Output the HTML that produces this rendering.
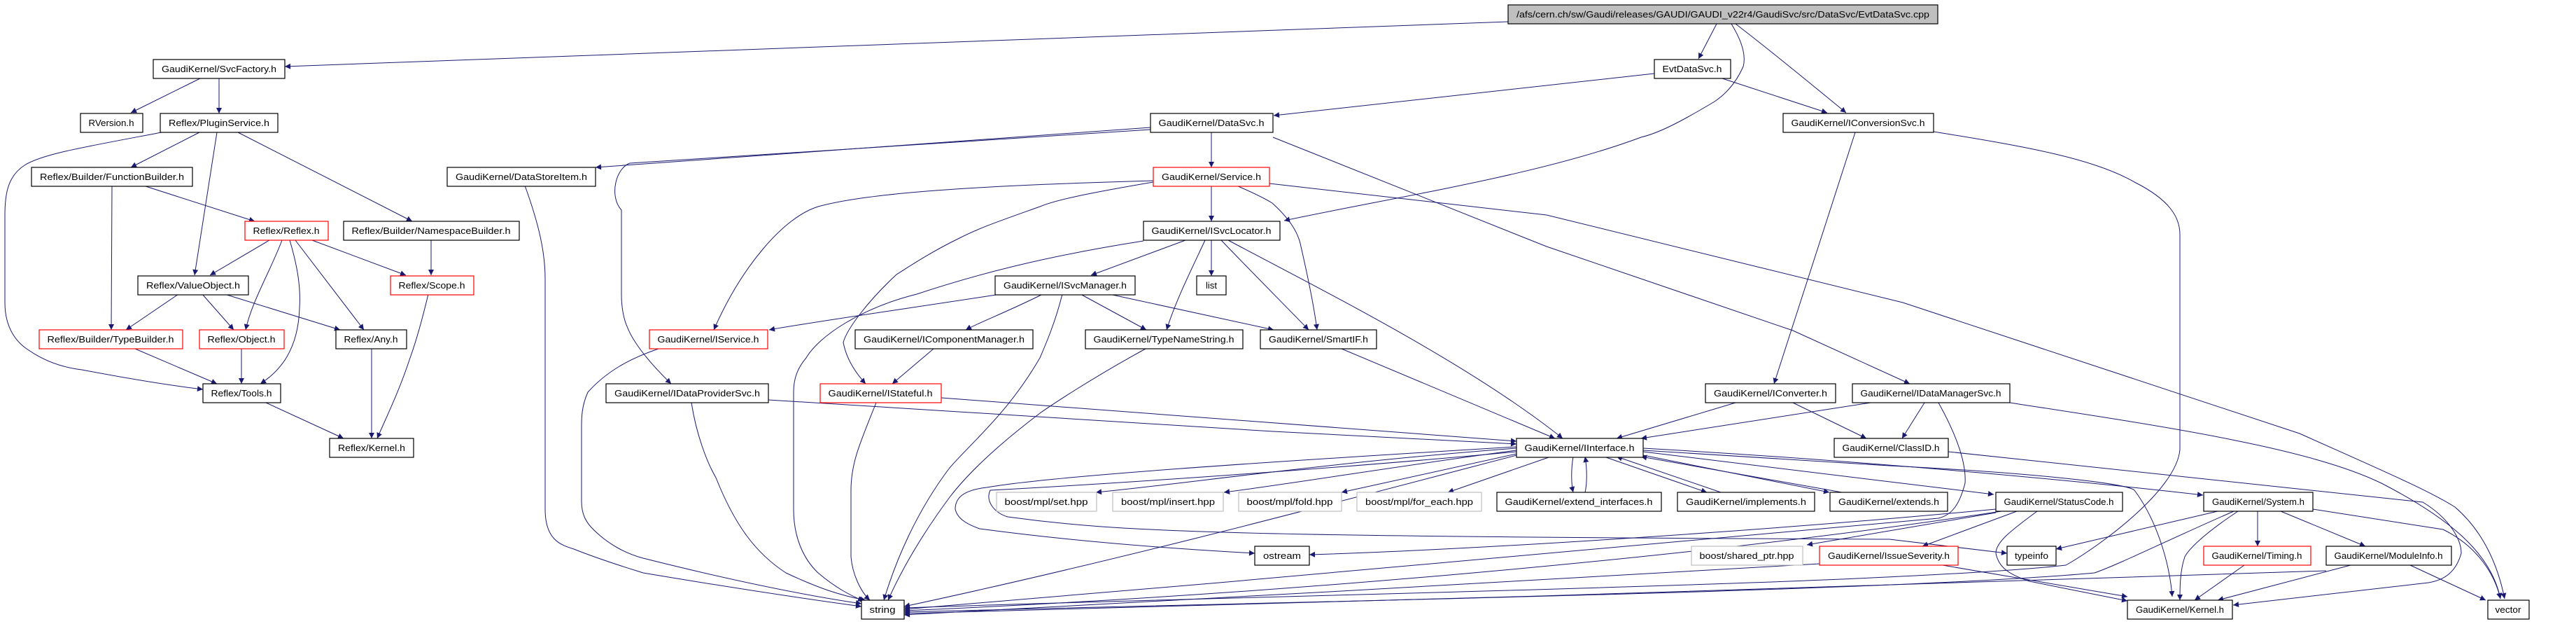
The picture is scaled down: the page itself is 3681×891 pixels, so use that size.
<!DOCTYPE html>
<html><head><meta charset="utf-8"><style>
html,body{margin:0;padding:0;background:#fff;}
svg{display:block;}
text{font-family:"Liberation Sans","DejaVu Sans",sans-serif;font-size:13px;fill:#000;}
.n{fill:#fff;stroke:#000;stroke-width:1.2;}
.r{fill:#fff;stroke:#ff0000;stroke-width:1.2;}
.g{fill:#fff;stroke:#bfbfbf;stroke-width:1.2;}
.e{fill:none;stroke:#191970;stroke-width:1;}
</style></head><body>
<svg width="3681" height="891" viewBox="0 0 3681 891" xmlns="http://www.w3.org/2000/svg">
<defs><marker id="a" viewBox="0 0 10 10" refX="10" refY="5" markerWidth="11" markerHeight="8" markerUnits="userSpaceOnUse" orient="auto"><path d="M0,0 L10,5 L0,10 z" fill="#191970"/></marker></defs>
<g class="edges" marker-end="url(#a)">
<path class="e" marker-end="url(#a)" d="M2155,31 L407,95"/>
<path class="e" marker-end="url(#a)" d="M286,112 L187,161"/>
<path class="e" marker-end="url(#a)" d="M313,112 L313,162"/>
<path class="e" marker-end="url(#a)" d="M285,189 L187,239"/>
<path class="e" marker-end="url(#a)" d="M310,189 L278,393"/>
<path class="e" marker-end="url(#a)" d="M340,189 L589,316"/>
<path class="e" marker-end="url(#a)" d="M231,189 C120,210 60,220 35,236 C10,252 7,280 7,307 L7,432 C7,470 25,490 41,500 C70,520 100,526 117,528 C180,540 240,550 290,556"/>
<path class="e" marker-end="url(#a)" d="M160,265 L159,471"/>
<path class="e" marker-end="url(#a)" d="M205,265 L364,316"/>
<path class="e" marker-end="url(#a)" d="M385,343 L300,393"/>
<path class="e" marker-end="url(#a)" d="M403,343 C385,390 360,430 351,471"/>
<path class="e" marker-end="url(#a)" d="M414,343 C425,380 430,410 428,440 C426,500 400,530 372,548"/>
<path class="e" marker-end="url(#a)" d="M422,343 L520,471"/>
<path class="e" marker-end="url(#a)" d="M446,343 L580,393"/>
<path class="e" marker-end="url(#a)" d="M616,343 L616,393"/>
<path class="e" marker-end="url(#a)" d="M255,420 L180,471"/>
<path class="e" marker-end="url(#a)" d="M289,420 L334,471"/>
<path class="e" marker-end="url(#a)" d="M321,420 L486,471"/>
<path class="e" marker-end="url(#a)" d="M193,498 L310,548"/>
<path class="e" marker-end="url(#a)" d="M345,498 L345,548"/>
<path class="e" marker-end="url(#a)" d="M531,498 L531,626"/>
<path class="e" marker-end="url(#a)" d="M612,420 C600,470 590,500 586,511 C570,560 550,600 539,626"/>
<path class="e" marker-end="url(#a)" d="M380,575 L491,626"/>
<path class="e" marker-end="url(#a)" d="M1644,182 L851,239"/>
<path class="e" marker-end="url(#a)" d="M750,265 C770,320 779,360 779,398 L779,727 C779,770 800,778 820,784 C860,800 900,812 919,818 C1050,840 1150,855 1231,866"/>
<path class="e" marker-end="url(#a)" d="M1644,185 L900,233 C880,240 870,280 888,300 C888,320 888,330 888,340 L888,420 C888,450 896,466 896,466 C905,490 930,520 959,548"/>
<path class="e" marker-end="url(#a)" d="M941,498 C900,512 867,530 840,560 C831,580 831,597 831,610 L831,716 C831,735 838,745 844,752 C870,780 900,792 919,797 C1050,830 1150,850 1231,862"/>
<path class="e" marker-end="url(#a)" d="M1731,189 L1731,239"/>
<path class="e" marker-end="url(#a)" d="M1731,265 L1731,316"/>
<path class="e" marker-end="url(#a)" d="M1648,258 C1400,265 1240,275 1169,295 C1120,310 1060,380 1020,471"/>
<path class="e" marker-end="url(#a)" d="M1648,260 C1560,275 1510,285 1486,295 C1430,315 1400,325 1369,341 C1330,360 1300,380 1281,392 C1240,430 1210,470 1205,489 C1210,515 1225,535 1237,548"/>
<path class="e" marker-end="url(#a)" d="M1767,265 C1790,275 1810,285 1818,290 C1840,310 1855,330 1859,352 C1870,400 1878,440 1882,471"/>
<path class="e" marker-end="url(#a)" d="M1814,262 L2210,307 L2719,432 L3286,619 C3400,670 3470,700 3508,724 C3550,760 3570,810 3579,855"/>
<path class="e" marker-end="url(#a)" d="M1819,196 L2210,352 L2562,472 L2729,548"/>
<path class="e" marker-end="url(#a)" d="M1694,343 L1559,393"/>
<path class="e" marker-end="url(#a)" d="M1731,343 L1731,394"/>
<path class="e" marker-end="url(#a)" d="M1722,343 C1700,390 1680,430 1667,471"/>
<path class="e" marker-end="url(#a)" d="M1745,343 C1800,400 1840,440 1870,471"/>
<path class="e" marker-end="url(#a)" d="M1755,343 C1900,420 2100,520 2233,626"/>
<path class="e" marker-end="url(#a)" d="M1634,344 C1500,365 1400,390 1310,420 C1230,440 1170,480 1152,511 C1140,525 1134,540 1134,560 L1134,727 C1134,770 1150,800 1169,818 C1195,840 1215,850 1234,858"/>
<path class="e" marker-end="url(#a)" d="M1430,420 C1300,440 1160,460 1099,471"/>
<path class="e" marker-end="url(#a)" d="M1490,420 C1440,445 1400,460 1380,471"/>
<path class="e" marker-end="url(#a)" d="M1518,420 C1508,460 1495,490 1486,511 C1440,590 1390,630 1357,668 C1310,730 1280,800 1263,857"/>
<path class="e" marker-end="url(#a)" d="M1544,420 L1638,471"/>
<path class="e" marker-end="url(#a)" d="M1585,420 L1820,471"/>
<path class="e" marker-end="url(#a)" d="M1334,498 L1275,548"/>
<path class="e" marker-end="url(#a)" d="M1637,498 C1560,540 1500,580 1486,590 C1420,640 1380,680 1357,710 C1320,760 1290,810 1269,857"/>
<path class="e" marker-end="url(#a)" d="M988,575 C995,620 1010,660 1023,682 C1050,750 1080,790 1123,818 C1170,840 1200,850 1237,857"/>
<path class="e" marker-end="url(#a)" d="M1098,571 L1819,616 L2167,634"/>
<path class="e" marker-end="url(#a)" d="M1345,568 L2167,630"/>
<path class="e" marker-end="url(#a)" d="M1252,575 C1230,630 1216,660 1216,700 L1216,795 C1218,820 1230,845 1243,857"/>
<path class="e" marker-end="url(#a)" d="M2167,640 C1900,660 1700,690 1566,703"/>
<path class="e" marker-end="url(#a)" d="M2167,643 C2000,665 1850,690 1749,703"/>
<path class="e" marker-end="url(#a)" d="M2167,648 L1917,703"/>
<path class="e" marker-end="url(#a)" d="M2216,652 L2069,703"/>
<path class="e" marker-end="url(#a)" d="M2167,638 C1800,660 1500,680 1410,696 C1375,700 1365,712 1365,727 C1368,740 1380,748 1400,755 C1550,775 1700,785 1793,790"/>
<path class="e" marker-end="url(#a)" d="M2167,645 C1900,670 1600,690 1415,700 C1408,715 1420,732 1440,738 C1600,760 1750,766 2700,770 L2868,790"/>
<path class="e" marker-end="url(#a)" d="M2248,652 C2245,670 2245,690 2248,703"/>
<path class="e" marker-end="url(#a)" d="M2265,703 C2268,690 2268,670 2265,652"/>
<path class="e" marker-end="url(#a)" d="M2292,652 L2439,703"/>
<path class="e" marker-end="url(#a)" d="M2459,703 L2310,652"/>
<path class="e" marker-end="url(#a)" d="M2348,650 L2614,703"/>
<path class="e" marker-end="url(#a)" d="M2632,703 L2345,652"/>
<path class="e" marker-end="url(#a)" d="M2348,645 L2849,706"/>
<path class="e" marker-end="url(#a)" d="M2348,640 C2700,660 3000,690 3148,707"/>
<path class="e" marker-end="url(#a)" d="M2348,643 L2700,665 C2900,675 3040,690 3050,700 C3080,740 3100,800 3104,852"/>
<path class="e" marker-end="url(#a)" d="M2167,650 C1900,720 1600,800 1292,866"/>
<path class="e" marker-end="url(#a)" d="M2364,105 L1820,165"/>
<path class="e" marker-end="url(#a)" d="M2461,112 L2611,161"/>
<path class="e" marker-end="url(#a)" d="M2453,34 L2427,84"/>
<path class="e" marker-end="url(#a)" d="M2480,34 C2540,80 2600,130 2638,161"/>
<path class="e" marker-end="url(#a)" d="M2474,34 C2490,60 2495,80 2491,95 C2480,120 2465,135 2450,145 C2400,175 2370,190 2345,196 C2200,250 2000,280 1835,315"/>
<path class="e" marker-end="url(#a)" d="M2651,189 L2535,548"/>
<path class="e" marker-end="url(#a)" d="M2763,188 C2900,210 2993,227 3050,260 C3100,285 3115,310 3115,335 L3115,642 C3110,700 3000,780 2952,807 C2700,835 1800,850 1292,868"/>
<path class="e" marker-end="url(#a)" d="M1917,498 L2222,626"/>
<path class="e" marker-end="url(#a)" d="M2480,575 L2310,626"/>
<path class="e" marker-end="url(#a)" d="M2562,575 L2667,626"/>
<path class="e" marker-end="url(#a)" d="M2673,575 L2345,626"/>
<path class="e" marker-end="url(#a)" d="M2750,575 L2718,626"/>
<path class="e" marker-end="url(#a)" d="M2872,575 C3100,610 3300,640 3403,690 C3500,740 3560,790 3573,855"/>
<path class="e" marker-end="url(#a)" d="M2770,575 C2795,620 2810,660 2808,690 C2800,720 2790,735 2770,740 C2400,770 1800,830 1292,870"/>
<path class="e" marker-end="url(#a)" d="M2784,645 L3462,717 C3500,740 3517,770 3517,790 C3510,815 3495,828 3470,832 L3191,864"/>
<path class="e" marker-end="url(#a)" d="M2882,730 L2747,780"/>
<path class="e" marker-end="url(#a)" d="M2911,730 C2870,760 2852,775 2852,790 C2856,810 2870,820 2900,830 L3040,858"/>
<path class="e" marker-end="url(#a)" d="M2852,727 C2500,760 2100,785 1871,792"/>
<path class="e" marker-end="url(#a)" d="M2860,730 C2400,800 1800,850 1292,872"/>
<path class="e" marker-end="url(#a)" d="M2852,732 L2582,778"/>
<path class="e" marker-end="url(#a)" d="M3169,730 L2938,784"/>
<path class="e" marker-end="url(#a)" d="M3198,730 C3160,755 3130,780 3122,795 C3115,815 3115,840 3115,857"/>
<path class="e" marker-end="url(#a)" d="M3226,730 L3226,780"/>
<path class="e" marker-end="url(#a)" d="M3259,730 L3380,780"/>
<path class="e" marker-end="url(#a)" d="M3305,727 L3491,756 C3540,780 3565,820 3573,855"/>
<path class="e" marker-end="url(#a)" d="M3192,730 C3100,770 3030,805 2993,818 C2700,845 1800,860 1292,874"/>
<path class="e" marker-end="url(#a)" d="M3207,807 L3136,857"/>
<path class="e" marker-end="url(#a)" d="M3359,807 L3169,857"/>
<path class="e" marker-end="url(#a)" d="M3444,807 L3552,857"/>
<path class="e" marker-end="url(#a)" d="M3324,815 C2800,835 1900,860 1292,876"/>
<path class="e" marker-end="url(#a)" d="M2776,807 L3040,852"/>
<path class="e" marker-end="url(#a)" d="M2600,805 C2200,830 1700,855 1292,878"/>
</g>
<g>
<rect x="2155" y="7" width="614" height="27" fill="#bfbfbf" stroke="#000" stroke-width="1.2"/><text x="2462" y="25" text-anchor="middle" textLength="590" lengthAdjust="spacingAndGlyphs">/afs/cern.ch/sw/Gaudi/releases/GAUDI/GAUDI_v22r4/GaudiSvc/src/DataSvc/EvtDataSvc.cpp</text>
<rect class="n" x="219" y="85" width="188" height="27"/><text x="313" y="103" text-anchor="middle" textLength="164" lengthAdjust="spacingAndGlyphs">GaudiKernel/SvcFactory.h</text>
<rect class="n" x="2364" y="85" width="109" height="27"/><text x="2418" y="103" text-anchor="middle" textLength="85" lengthAdjust="spacingAndGlyphs">EvtDataSvc.h</text>
<rect class="n" x="115" y="162" width="89" height="27"/><text x="159" y="180" text-anchor="middle" textLength="65" lengthAdjust="spacingAndGlyphs">RVersion.h</text>
<rect class="n" x="229" y="162" width="168" height="27"/><text x="313" y="180" text-anchor="middle" textLength="144" lengthAdjust="spacingAndGlyphs">Reflex/PluginService.h</text>
<rect class="n" x="1644" y="162" width="175" height="27"/><text x="1731" y="180" text-anchor="middle" textLength="151" lengthAdjust="spacingAndGlyphs">GaudiKernel/DataSvc.h</text>
<rect class="n" x="2548" y="162" width="215" height="27"/><text x="2655" y="180" text-anchor="middle" textLength="191" lengthAdjust="spacingAndGlyphs">GaudiKernel/IConversionSvc.h</text>
<rect class="n" x="45" y="239" width="230" height="27"/><text x="160" y="257" text-anchor="middle" textLength="206" lengthAdjust="spacingAndGlyphs">Reflex/Builder/FunctionBuilder.h</text>
<rect class="n" x="639" y="239" width="212" height="27"/><text x="745" y="257" text-anchor="middle" textLength="188" lengthAdjust="spacingAndGlyphs">GaudiKernel/DataStoreItem.h</text>
<rect class="r" x="1648" y="239" width="166" height="27"/><text x="1731" y="257" text-anchor="middle" textLength="142" lengthAdjust="spacingAndGlyphs">GaudiKernel/Service.h</text>
<rect class="r" x="350" y="316" width="119" height="27"/><text x="409" y="334" text-anchor="middle" textLength="95" lengthAdjust="spacingAndGlyphs">Reflex/Reflex.h</text>
<rect class="n" x="491" y="316" width="251" height="27"/><text x="616" y="334" text-anchor="middle" textLength="227" lengthAdjust="spacingAndGlyphs">Reflex/Builder/NamespaceBuilder.h</text>
<rect class="n" x="1634" y="316" width="195" height="27"/><text x="1731" y="334" text-anchor="middle" textLength="171" lengthAdjust="spacingAndGlyphs">GaudiKernel/ISvcLocator.h</text>
<rect class="n" x="197" y="394" width="158" height="27"/><text x="276" y="412" text-anchor="middle" textLength="134" lengthAdjust="spacingAndGlyphs">Reflex/ValueObject.h</text>
<rect class="r" x="558" y="394" width="119" height="27"/><text x="617" y="412" text-anchor="middle" textLength="95" lengthAdjust="spacingAndGlyphs">Reflex/Scope.h</text>
<rect class="n" x="1422" y="394" width="200" height="27"/><text x="1522" y="412" text-anchor="middle" textLength="176" lengthAdjust="spacingAndGlyphs">GaudiKernel/ISvcManager.h</text>
<rect class="n" x="1710" y="394" width="42" height="27"/><text x="1731" y="412" text-anchor="middle">list</text>
<rect class="r" x="56" y="471" width="205" height="27"/><text x="158" y="489" text-anchor="middle" textLength="181" lengthAdjust="spacingAndGlyphs">Reflex/Builder/TypeBuilder.h</text>
<rect class="r" x="285" y="471" width="121" height="27"/><text x="345" y="489" text-anchor="middle" textLength="97" lengthAdjust="spacingAndGlyphs">Reflex/Object.h</text>
<rect class="n" x="480" y="471" width="101" height="27"/><text x="530" y="489" text-anchor="middle" textLength="77" lengthAdjust="spacingAndGlyphs">Reflex/Any.h</text>
<rect class="r" x="928" y="471" width="169" height="27"/><text x="1012" y="489" text-anchor="middle" textLength="145" lengthAdjust="spacingAndGlyphs">GaudiKernel/IService.h</text>
<rect class="n" x="1222" y="471" width="254" height="27"/><text x="1349" y="489" text-anchor="middle" textLength="230" lengthAdjust="spacingAndGlyphs">GaudiKernel/IComponentManager.h</text>
<rect class="n" x="1551" y="471" width="225" height="27"/><text x="1663" y="489" text-anchor="middle" textLength="201" lengthAdjust="spacingAndGlyphs">GaudiKernel/TypeNameString.h</text>
<rect class="n" x="1801" y="471" width="166" height="27"/><text x="1884" y="489" text-anchor="middle" textLength="142" lengthAdjust="spacingAndGlyphs">GaudiKernel/SmartIF.h</text>
<rect class="n" x="290" y="548" width="111" height="27"/><text x="345" y="566" text-anchor="middle" textLength="87" lengthAdjust="spacingAndGlyphs">Reflex/Tools.h</text>
<rect class="n" x="866" y="548" width="232" height="27"/><text x="982" y="566" text-anchor="middle" textLength="208" lengthAdjust="spacingAndGlyphs">GaudiKernel/IDataProviderSvc.h</text>
<rect class="r" x="1172" y="548" width="173" height="27"/><text x="1258" y="566" text-anchor="middle" textLength="149" lengthAdjust="spacingAndGlyphs">GaudiKernel/IStateful.h</text>
<rect class="n" x="2437" y="548" width="186" height="27"/><text x="2530" y="566" text-anchor="middle" textLength="162" lengthAdjust="spacingAndGlyphs">GaudiKernel/IConverter.h</text>
<rect class="n" x="2647" y="548" width="225" height="27"/><text x="2759" y="566" text-anchor="middle" textLength="201" lengthAdjust="spacingAndGlyphs">GaudiKernel/IDataManagerSvc.h</text>
<rect class="n" x="471" y="626" width="120" height="27"/><text x="531" y="644" text-anchor="middle" textLength="96" lengthAdjust="spacingAndGlyphs">Reflex/Kernel.h</text>
<rect class="n" x="2167" y="626" width="181" height="27"/><text x="2257" y="644" text-anchor="middle" textLength="157" lengthAdjust="spacingAndGlyphs">GaudiKernel/IInterface.h</text>
<rect class="n" x="2621" y="626" width="163" height="27"/><text x="2702" y="644" text-anchor="middle" textLength="139" lengthAdjust="spacingAndGlyphs">GaudiKernel/ClassID.h</text>
<rect class="g" x="1424" y="703" width="143" height="27"/><text x="1495" y="721" text-anchor="middle" textLength="119" lengthAdjust="spacingAndGlyphs">boost/mpl/set.hpp</text>
<rect class="g" x="1590" y="703" width="158" height="27"/><text x="1669" y="721" text-anchor="middle" textLength="134" lengthAdjust="spacingAndGlyphs">boost/mpl/insert.hpp</text>
<rect class="g" x="1770" y="703" width="147" height="27"/><text x="1843" y="721" text-anchor="middle" textLength="123" lengthAdjust="spacingAndGlyphs">boost/mpl/fold.hpp</text>
<rect class="g" x="1939" y="703" width="178" height="27"/><text x="2028" y="721" text-anchor="middle" textLength="154" lengthAdjust="spacingAndGlyphs">boost/mpl/for_each.hpp</text>
<rect class="n" x="2139" y="703" width="235" height="27"/><text x="2256" y="721" text-anchor="middle" textLength="211" lengthAdjust="spacingAndGlyphs">GaudiKernel/extend_interfaces.h</text>
<rect class="n" x="2397" y="703" width="196" height="27"/><text x="2495" y="721" text-anchor="middle" textLength="172" lengthAdjust="spacingAndGlyphs">GaudiKernel/implements.h</text>
<rect class="n" x="2615" y="703" width="168" height="27"/><text x="2699" y="721" text-anchor="middle" textLength="144" lengthAdjust="spacingAndGlyphs">GaudiKernel/extends.h</text>
<rect class="n" x="2852" y="703" width="181" height="27"/><text x="2942" y="721" text-anchor="middle" textLength="157" lengthAdjust="spacingAndGlyphs">GaudiKernel/StatusCode.h</text>
<rect class="n" x="3149" y="703" width="156" height="27"/><text x="3227" y="721" text-anchor="middle" textLength="132" lengthAdjust="spacingAndGlyphs">GaudiKernel/System.h</text>
<rect class="n" x="1793" y="780" width="78" height="27"/><text x="1832" y="798" text-anchor="middle" textLength="54" lengthAdjust="spacingAndGlyphs">ostream</text>
<rect class="g" x="2417" y="780" width="159" height="27"/><text x="2496" y="798" text-anchor="middle" textLength="135" lengthAdjust="spacingAndGlyphs">boost/shared_ptr.hpp</text>
<rect class="r" x="2600" y="780" width="198" height="27"/><text x="2699" y="798" text-anchor="middle" textLength="174" lengthAdjust="spacingAndGlyphs">GaudiKernel/IssueSeverity.h</text>
<rect class="n" x="2868" y="780" width="70" height="27"/><text x="2903" y="798" text-anchor="middle" textLength="48" lengthAdjust="spacingAndGlyphs">typeinfo</text>
<rect class="r" x="3149" y="780" width="153" height="27"/><text x="3225" y="798" text-anchor="middle" textLength="129" lengthAdjust="spacingAndGlyphs">GaudiKernel/Timing.h</text>
<rect class="n" x="3324" y="780" width="179" height="27"/><text x="3413" y="798" text-anchor="middle" textLength="155" lengthAdjust="spacingAndGlyphs">GaudiKernel/ModuleInfo.h</text>
<rect class="n" x="1231" y="857" width="61" height="27"/><text x="1261" y="875" text-anchor="middle" textLength="37" lengthAdjust="spacingAndGlyphs">string</text>
<rect class="n" x="3040" y="857" width="150" height="27"/><text x="3115" y="875" text-anchor="middle" textLength="126" lengthAdjust="spacingAndGlyphs">GaudiKernel/Kernel.h</text>
<rect class="n" x="3555" y="857" width="59" height="27"/><text x="3584" y="875" text-anchor="middle" textLength="37" lengthAdjust="spacingAndGlyphs">vector</text>
</g>
</svg>
</body></html>
